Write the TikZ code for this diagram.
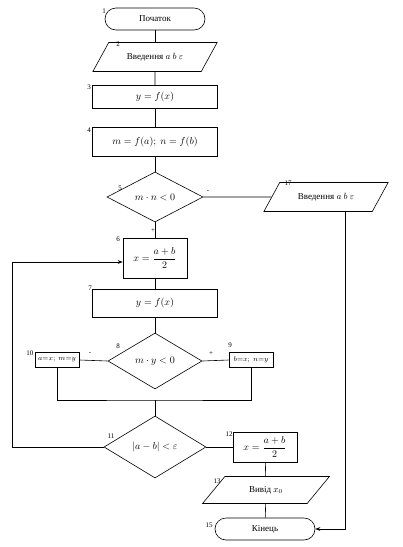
\documentclass[tikz,border=0pt]{standalone}
\usepackage{amsmath, amssymb}
\usepackage{fontspec}
\setmainfont{Liberation Serif}
\usetikzlibrary{arrows.meta, shapes.geometric}

\begin{document}
\begin{tikzpicture}[x=1pt, y=-1pt, >={Stealth[length=5pt]}, line width=0.6pt,
  term/.style={draw, rectangle, rounded corners=11pt, minimum width=100pt, minimum height=22pt, font=\small},
  io/.style={draw, trapezium, trapezium left angle=45, trapezium right angle=135, trapezium stretches=true, minimum width=125pt, minimum height=29pt, inner sep=1pt, font=\small},
  proc/.style={draw, rectangle, minimum width=125pt, inner sep=2pt},
  calc/.style={draw, rectangle, minimum width=64pt, inner sep=2pt},
  setbox/.style={draw, rectangle, minimum width=44pt, minimum height=15pt, inner sep=1pt, font=\scriptsize},
  cond/.style={draw, diamond, inner sep=0pt},
  num/.style={inner sep=0pt, font=\fontsize{7}{8}\selectfont}]
  \useasboundingbox (0,0) rectangle (403,547);

  \node[term] (start) at (155,19) {Початок};
  \node[io] (in1) at (155,57) {Введення $a$ $b$ $\varepsilon$};
  \node[proc, minimum height=23pt] (f1) at (155,97) {$y=f(x)$};
  \node[proc, minimum height=29pt] (fab) at (155,142) {$m=f(a);\ n=f(b)$};
  \node[cond, minimum width=96pt, minimum height=50pt] (cmn) at (155,197) {$m\cdot n<0$};
  \node[io] (in2) at (326,197) {Введення $a$ $b$ $\varepsilon$};
  \node[calc, minimum height=40pt] (mid1) at (155,258) {$x=\dfrac{a+b}{2}$};
  \node[proc, minimum height=28pt] (f2) at (155,303) {$y=f(x)$};
  \node[cond, minimum width=94pt, minimum height=56pt] (cmy) at (155,361) {$m\cdot y<0$};
  \node[setbox] (seta) at (57,360) {$a{=}x;\ m{=}y$};
  \node[setbox] (setb) at (251,360) {$b{=}x;\ n{=}y$};
  \node[cond, minimum width=102pt, minimum height=62pt] (ceps) at (155,447) {$\left|a-b\right|<\varepsilon$};
  \node[calc, minimum height=30pt] (mid2) at (265,447) {$x=\dfrac{a+b}{2}$};
  \node[io, minimum width=127pt, minimum height=27pt] (out) at (266,490) {Вивід $x_0$};
  \node[term] (end) at (265,529) {Кінець};

  \node[num] (n1) at (104,11) {1};
  \node[num] (n2) at (118,44) {2};
  \node[num] (n3) at (89,87) {3};
  \node[num] (n4) at (89,130) {4};
  \node[num] (n5) at (120,188) {5};
  \node[num] (n6) at (118,239) {6};
  \node[num] (n7) at (90,288) {7};
  \node[num] (n8) at (118,346) {8};
  \node[num] (n9) at (230,345) {9};
  \node[num] (n10) at (30,353) {10};
  \node[num] (n11) at (111,436) {11};
  \node[num] (n12) at (229,434) {12};
  \node[num] (n13) at (217,481) {13};
  \node[num] (n15) at (209,525) {15};
  \node[num] (n17) at (288,183) {17};
  \node[num] (no5) at (208,192) {-};
  \node[num] (yes5) at (153,231) {+};
  \node[num] (no8) at (90,354) {-};
  \node[num] (yes8) at (211,354) {+};

  \draw (start) -- (in1);
  \draw (in1) -- (f1);
  \draw (f1) -- (fab);
  \draw (fab) -- (cmn);
  \draw (cmn) -- (mid1);
  \draw (cmn.east) -- (in2.west);
  \draw[->] (in2.south) ++(19,0) |- (end.east);
  \draw (mid1) -- (f2);
  \draw (f2) -- (cmy);
  \draw (cmy.west) -- (seta.east);
  \draw (cmy.east) -- (setb.west);
  \coordinate (join) at (155,400);
  \draw (seta.south) |- (join) -| (setb.south);
  \draw (join) -- (ceps.north);
  \draw[->] (ceps.west) -- ++(-91,0) |- ([yshift=-4pt]mid1.west);
  \draw (ceps.east) -- (mid2.west);
  \draw (mid2) -- (out);
  \draw (out) -- (end);
\end{tikzpicture}
\end{document}
